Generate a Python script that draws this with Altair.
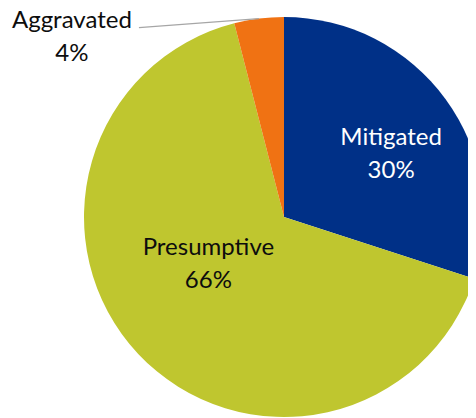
import altair as alt
import pandas as pd

categories = ["Mitigated", "Presumptive", "Aggravated"]
shares = [30, 66, 4]
slice_order = [0, 1, 2]
colors = ["#003087", "#BFC62F", "#F07213"]

df = pd.DataFrame({"category": categories, "share": shares, "order": slice_order})

CX, CY, R = 276, 209, 200
FONT = "Lato"
FS = 24
LH = 33

base = alt.Chart(df).transform_calculate(
    label="datum.category + '\\n' + datum.share + '%'"
).encode(
    theta=alt.Theta("share:Q", stack=True),
    order=alt.Order("order:Q"),
    x=alt.value(CX),
    y=alt.value(CY),
)

pie = base.mark_arc(outerRadius=R).encode(
    color=alt.Color("category:N", scale=alt.Scale(domain=categories, range=colors), legend=None)
)


def label_layer(cat, radius, dx, dy, color):
    return base.transform_calculate(
        t=f"datum.category == '{cat}' ? datum.label : ''"
    ).mark_text(
        radius=radius, dx=dx, dy=dy, font=FONT, fontSize=FS, lineHeight=LH,
        lineBreak="\n", align="center", baseline="alphabetic", color=color
    ).encode(text="t:N")


lab_mit = label_layer("Mitigated", 120, 10, -1.5, "white")
lab_pre = label_layer("Presumptive", 90, -10, -23.5, "#0D0D0D")
lab_agg = label_layer("Aggravated", R, -187, 9.5, "#0D0D0D")

leader = alt.Chart(df).transform_joinaggregate(
    total="sum(share)"
).transform_window(
    cum="sum(share)", sort=[alt.SortField("order")], frame=[None, 0]
).transform_calculate(
    mid="(datum.cum - datum.share / 2) / datum.total * 2 * PI"
).transform_calculate(
    xe=f"{CX} + {R} * sin(datum.mid)",
    ye=f"{CY} - {R} * cos(datum.mid)",
).transform_calculate(
    xs="datum.xe - 120",
    ys="datum.ye + 9",
).transform_filter(
    "datum.category == 'Aggravated'"
).mark_rule(color="#A6A6A6", strokeWidth=1.2).encode(
    x=alt.X("xs:Q", scale=None, axis=None),
    x2="xe:Q",
    y=alt.Y("ys:Q", scale=None, axis=None),
    y2="ye:Q",
)

chart = alt.layer(pie, leader, lab_mit, lab_pre, lab_agg).properties(
    width=460, height=410, padding=0, autosize=alt.AutoSizeParams(type="none"),
    background="white"
).configure_view(stroke=None)

chart.save("out.html", embed_options={"renderer": "svg", "actions": False})
